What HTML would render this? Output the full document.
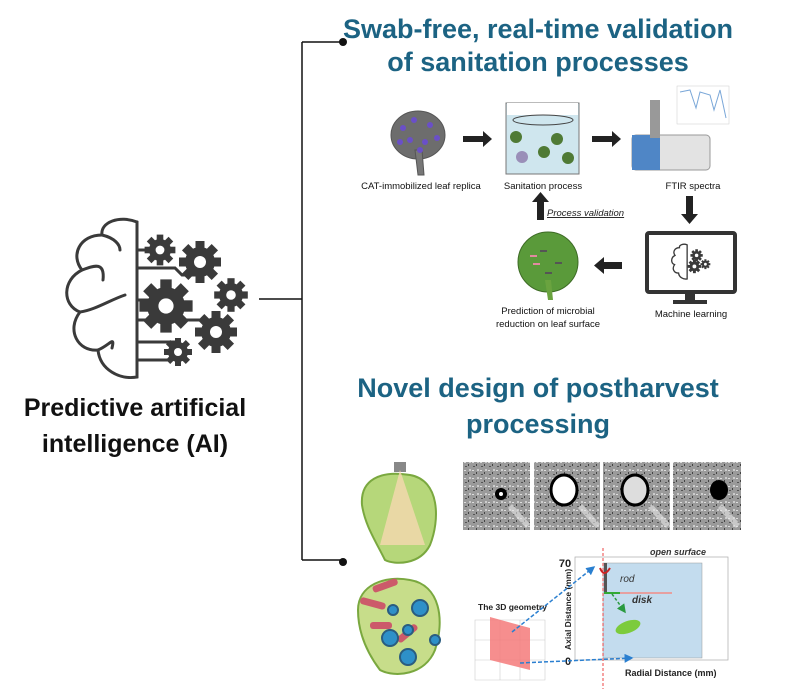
<!DOCTYPE html>
<html><head><meta charset="utf-8"><style>
html,body{margin:0;padding:0;background:#fff;width:792px;height:689px;overflow:hidden}
svg{display:block}
text{font-family:"Liberation Sans",sans-serif}
</style></head><body>
<svg width="792" height="689" viewBox="0 0 792 689" xmlns="http://www.w3.org/2000/svg">
<defs>
<g id="gear"><circle r="10" fill="#3a3a3a"/><g fill="#3a3a3a"><rect x="-3" y="-14" width="6" height="28"/><rect x="-14" y="-3" width="28" height="6"/><rect x="-3" y="-14" width="6" height="28" transform="rotate(45)"/><rect x="-3" y="-14" width="6" height="28" transform="rotate(-45)"/></g><circle r="4" fill="#fff"/></g>
<pattern id="tex" width="8" height="8" patternUnits="userSpaceOnUse"><rect width="8" height="8" fill="#9a9a9a"/><rect x="1" y="2" width="2" height="1" fill="#555"/><rect x="5" y="5" width="2" height="2" fill="#ccc"/><rect x="4" y="0" width="1" height="2" fill="#444"/><rect x="0" y="6" width="2" height="1" fill="#ddd"/></pattern>
<marker id="ab" markerWidth="6" markerHeight="6" refX="5" refY="3" orient="auto"><path d="M0,0L6,3L0,6z" fill="#2a7fd0"/></marker>
<marker id="ag" markerWidth="6" markerHeight="6" refX="5" refY="3" orient="auto"><path d="M0,0L6,3L0,6z" fill="#2a9a40"/></marker>
</defs>

<g stroke="#111" stroke-width="1.5" fill="none">
<path d="M259 299H302M302 42V560M302 42H343M302 560H343"/>
</g>
<circle cx="343" cy="42" r="4" fill="#111"/>
<circle cx="343" cy="562" r="4" fill="#111"/>

<g stroke="#3a3a3a" stroke-width="3" fill="none" stroke-linecap="round">
<path d="M137 222 C120 215 100 222 102 235 C80 235 70 255 82 270 C62 280 62 305 80 312 C66 330 78 352 98 350 C100 370 120 380 137 377 Z"/>
<path d="M137 222 V377"/>
<path d="M102 235 C115 238 120 245 120 250"/><path d="M82 270 C95 265 105 262 103 280"/>
<path d="M80 312 C95 310 110 300 125 295"/><path d="M98 350 C110 345 115 335 112 348"/>
<path d="M137 250 H155 M137 268 H175 L182 275 H200 M137 300 H165 M137 320 H210 M137 342 H175 M137 360 H170"/>
</g>
<use href="#gear" transform="translate(160 250) scale(1.1)"/>
<use href="#gear" transform="translate(200 262) scale(1.5)"/>
<use href="#gear" transform="translate(166 306) scale(1.9)"/>
<use href="#gear" transform="translate(231 295) scale(1.2)"/>
<use href="#gear" transform="translate(216 332) scale(1.5)"/>
<use href="#gear" transform="translate(178 352) scale(1.0)"/>
<text x="135" y="416" font-size="25" font-weight="bold" text-anchor="middle" fill="#111">Predictive artificial</text>
<text x="135" y="452" font-size="25" font-weight="bold" text-anchor="middle" fill="#111">intelligence (AI)</text>

<g fill="#1c6383" font-weight="bold" font-size="27" text-anchor="middle">
<text x="538" y="38">Swab-free, real-time validation</text>
<text x="538" y="71">of sanitation processes</text>
<text x="538" y="397">Novel design of postharvest</text>
<text x="538" y="433">processing</text>
</g>

<ellipse cx="418" cy="135" rx="27" ry="24" fill="#6d6d6d" stroke="#555"/>
<path d="M415 150 L418 175 L424 175 L422 150Z" fill="#777" stroke="#555"/>
<g fill="#6a4fc8"><circle cx="403" cy="128" r="3"/><circle cx="414" cy="120" r="3"/><circle cx="430" cy="125" r="3"/><circle cx="410" cy="140" r="3"/><circle cx="425" cy="142" r="3"/><circle cx="437" cy="138" r="3"/><circle cx="420" cy="150" r="3"/><circle cx="400" cy="142" r="3"/></g>
<g fill="#222"><path d="M463 136h20v-5l9 8-9 8v-5h-20z"/><path d="M592 136h20v-5l9 8-9 8v-5h-20z"/>
<path d="M686 196h7v18h5l-8.5 10-8.5-10h5z"/><path d="M622 262v7h-18v5l-10-8.5 10-8.5v5z"/><path d="M537 220v-18h-5l8.5-10 8.5 10h-5v18z"/></g>
<rect x="506" y="103" width="73" height="71" fill="#cfe6ee" stroke="#777"/>
<rect x="507" y="103" width="71" height="12" fill="#fff"/>
<ellipse cx="543" cy="120" rx="30" ry="5" fill="none" stroke="#444"/>
<g fill="#4f7a35"><circle cx="516" cy="137" r="6"/><circle cx="557" cy="139" r="6"/><circle cx="544" cy="152" r="6"/><circle cx="568" cy="158" r="6"/></g>
<circle cx="522" cy="157" r="6" fill="#9a8fb8"/>
<rect x="632" y="135" width="78" height="35" rx="4" fill="#e3e3e3" stroke="#999"/>
<rect x="632" y="135" width="28" height="35" fill="#4f86c6"/>
<rect x="650" y="100" width="10" height="38" fill="#999"/>
<rect x="677" y="86" width="52" height="38" fill="#fff" stroke="#ccc" stroke-width=".5"/>
<path d="M680 92 L690 90 L696 108 L700 92 L710 95 L714 110 L720 90 L726 118" stroke="#7aa7d8" fill="none"/>
<g font-size="9.5" text-anchor="middle" fill="#111">
<text x="421" y="189">CAT-immobilized leaf replica</text>
<text x="543" y="189">Sanitation process</text>
<text x="693" y="189">FTIR spectra</text>
<text x="691" y="317">Machine learning</text>
<text x="548" y="314">Prediction of microbial</text>
<text x="548" y="327">reduction on leaf surface</text>
</g>
<text x="547" y="216" font-size="9.5" font-style="italic" fill="#222" text-decoration="underline">Process validation</text>
<rect x="647" y="233" width="88" height="59" rx="2" fill="#fff" stroke="#333" stroke-width="4"/>
<path d="M685 292h10v8h12v4h-34v-4h12z" fill="#333"/>
<g transform="translate(690 262) scale(0.22) translate(-150 -300)">
<g stroke="#3a3a3a" stroke-width="6" fill="none"><path d="M137 222 C120 215 100 222 102 235 C80 235 70 255 82 270 C62 280 62 305 80 312 C66 330 78 352 98 350 C100 370 120 380 137 377 Z"/></g>
<use href="#gear" transform="translate(180 270) scale(2)"/><use href="#gear" transform="translate(170 320) scale(2.2)"/><use href="#gear" transform="translate(220 310) scale(1.6)"/>
</g>
<ellipse cx="548" cy="262" rx="30" ry="30" fill="#5a9a3a" stroke="#3d6b25"/>
<path d="M545 280 L548 300 L553 300 L551 280Z" fill="#6aa33f"/>
<g fill="#555"><rect x="540" y="250" width="7" height="2"/><rect x="555" y="262" width="7" height="2"/><rect x="545" y="272" width="7" height="2"/></g>
<g fill="#e08aa0"><rect x="530" y="255" width="7" height="2"/><rect x="533" y="263" width="7" height="2"/></g>

<rect x="394" y="462" width="12" height="10" fill="#888"/>
<path d="M362 505 C360 480 380 470 410 475 C440 480 440 520 430 545 C420 565 395 565 385 560 C375 540 365 525 362 505Z" fill="#b6d77a" stroke="#7aa83f" stroke-width="2"/>
<path d="M400 470 L380 545 L425 545Z" fill="#f6d8b0" opacity=".8"/>
<path d="M358 610 C358 585 385 575 410 580 C440 585 445 620 435 650 C425 675 395 678 380 670 C365 650 358 630 358 610Z" fill="#c7dd8a" stroke="#7aa83f" stroke-width="2"/>
<g fill="#cc5a6a"><rect x="372" y="582" width="26" height="7" rx="3" transform="rotate(-20 385 585)"/><rect x="360" y="600" width="26" height="7" rx="3" transform="rotate(15 373 603)"/><rect x="395" y="630" width="24" height="7" rx="3" transform="rotate(-40 407 633)"/><rect x="370" y="622" width="22" height="7" rx="3"/></g>
<g fill="#2e90c8" stroke="#2a5d80" stroke-width="2"><circle cx="420" cy="608" r="8"/><circle cx="390" cy="638" r="8"/><circle cx="408" cy="657" r="8"/><circle cx="435" cy="640" r="5"/><circle cx="393" cy="610" r="5"/><circle cx="408" cy="630" r="5"/></g>

<g fill="url(#tex)"><rect x="463" y="462" width="67" height="68"/><rect x="534" y="462" width="66" height="68"/><rect x="603" y="462" width="67" height="68"/><rect x="673" y="462" width="68" height="68"/></g>
<g fill="#e8e8e8" opacity=".6"><path d="M508 508 L526 528 L530 524 L512 504Z"/><path d="M578 508 L596 528 L600 524 L582 504Z"/><path d="M648 508 L666 528 L670 524 L652 504Z"/><path d="M718 508 L736 528 L740 524 L722 504Z"/></g>
<circle cx="501" cy="494" r="6" fill="#000"/><circle cx="501" cy="494" r="2" fill="#fff"/>
<ellipse cx="564" cy="490" rx="13" ry="15" fill="#fff" stroke="#000" stroke-width="3"/>
<ellipse cx="635" cy="490" rx="13" ry="15" fill="#ddd" stroke="#000" stroke-width="3"/>
<ellipse cx="719" cy="490" rx="9" ry="10" fill="#000"/>

<rect x="575" y="557" width="153" height="103" fill="#fff" stroke="#aaa" stroke-width=".7"/>
<rect x="603" y="563" width="99" height="95" fill="#c3dcee" stroke="#999" stroke-width=".5"/>
<line x1="603" y1="548" x2="603" y2="689" stroke="#e44" stroke-dasharray="3,2"/>
<rect x="604" y="563" width="3" height="30" fill="#555"/>
<line x1="604" y1="593" x2="672" y2="593" stroke="#e6a0a0" stroke-width="2"/>
<line x1="604" y1="593" x2="620" y2="593" stroke="#3a3" stroke-width="2"/>
<path d="M600 568 Q604 578 610 568" stroke="#c22" fill="none" stroke-width="2"/>
<text x="620" y="582" font-size="10" font-style="italic" fill="#333">rod</text>
<text x="632" y="603" font-size="10" font-style="italic" font-weight="bold" fill="#333">disk</text>
<text x="650" y="555" font-size="9" font-style="italic" font-weight="bold" fill="#333">open surface</text>
<text x="565" y="567" font-size="11" font-weight="bold" fill="#222" text-anchor="middle">70</text>
<text x="568" y="665" font-size="11" font-weight="bold" fill="#222" text-anchor="middle">0</text>
<text x="625" y="676" font-size="9" font-weight="bold" fill="#222">Radial Distance (mm)</text>
<text transform="translate(571 650) rotate(-90)" font-size="8.5" font-weight="bold" fill="#222">Axial Distance (mm)</text>
<ellipse cx="628" cy="627" rx="13" ry="6" fill="#7ccb3c" transform="rotate(-20 628 627)"/>
<line x1="612" y1="594" x2="625" y2="612" stroke="#2a9a40" stroke-dasharray="3,2" stroke-width="1.5" marker-end="url(#ag)"/>
<text x="478" y="610" font-size="8.5" font-weight="bold" fill="#222">The 3D geometry</text>
<g stroke="#ccc" fill="none" stroke-width=".6"><path d="M475 620 L545 620 L545 680 L475 680Z M475 640 H545 M475 660 H545 M500 620 V680 M520 620 V680"/></g>
<path d="M490 617 L530 628 L530 670 L490 660Z" fill="#f47a7a" opacity=".85"/>
<line x1="512" y1="632" x2="594" y2="567" stroke="#2a7fd0" stroke-dasharray="4,2" stroke-width="1.5" marker-end="url(#ab)"/>
<line x1="520" y1="663" x2="632" y2="658" stroke="#2a7fd0" stroke-dasharray="4,2" stroke-width="1.5" marker-end="url(#ab)"/>
</svg>
</body></html>
